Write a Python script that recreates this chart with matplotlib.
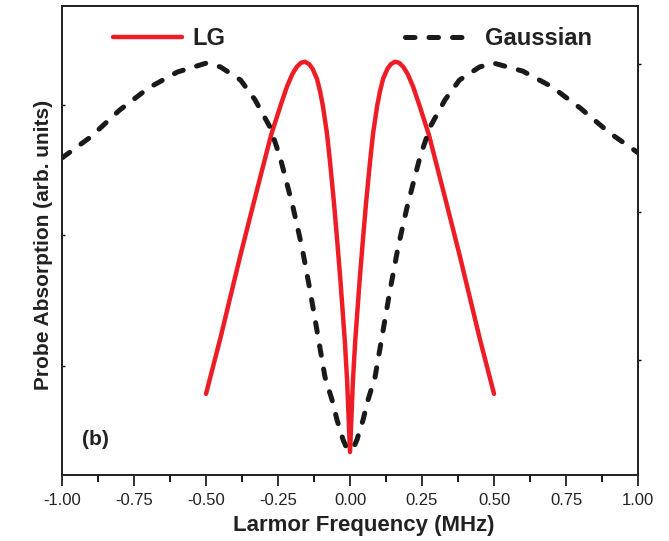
import matplotlib
matplotlib.use("Agg")
import matplotlib.pyplot as plt

plt.rcParams['font.family'] = ['Liberation Sans', 'DejaVu Sans']

# LG curve (arb. units 0..1)
lg_x = [-0.5, -0.45, -0.382, -0.33, -0.274, -0.24, -0.219, -0.2, -0.185, -0.17, -0.156,
        -0.142, -0.13, -0.115, -0.104, -0.094, -0.08, -0.069, -0.056, -0.045, -0.034,
        -0.028, -0.018, -0.01, 0.0,
        0.01, 0.018, 0.028, 0.034, 0.045, 0.056, 0.069, 0.08, 0.094, 0.104, 0.115,
        0.13, 0.142, 0.156, 0.17, 0.185, 0.2, 0.219, 0.24, 0.274, 0.33, 0.382, 0.45, 0.5]
lg_y = [0.173, 0.292, 0.465, 0.591, 0.725, 0.790, 0.828, 0.855, 0.870, 0.879, 0.881,
        0.876, 0.866, 0.845, 0.818, 0.786, 0.728, 0.665, 0.582, 0.503, 0.420,
        0.370, 0.285, 0.200, 0.049,
        0.200, 0.285, 0.370, 0.420, 0.503, 0.582, 0.665, 0.728, 0.786, 0.818, 0.845,
        0.866, 0.876, 0.881, 0.879, 0.870, 0.855, 0.828, 0.790, 0.725, 0.591, 0.465, 0.292, 0.173]

# Gaussian curve
ga_x = [-1.0, -0.9, -0.8, -0.7, -0.6, -0.5, -0.45, -0.38, -0.33, -0.278, -0.243, -0.198,
        -0.167, -0.139, -0.115, -0.087, -0.0625, -0.045, -0.024, -0.012, 0.0,
        0.012, 0.024, 0.045, 0.0625, 0.087, 0.115, 0.139, 0.167, 0.198, 0.243, 0.278,
        0.33, 0.38, 0.45, 0.5, 0.6, 0.7, 0.8, 0.9, 1.0]
ga_y = [0.676, 0.721, 0.778, 0.825, 0.859, 0.878, 0.870, 0.842, 0.800, 0.742, 0.678, 0.571,
        0.486, 0.394, 0.309, 0.209, 0.160, 0.117, 0.075, 0.058, 0.053,
        0.058, 0.075, 0.117, 0.160, 0.209, 0.309, 0.394, 0.486, 0.571, 0.678, 0.742,
        0.800, 0.842, 0.870, 0.878, 0.861, 0.828, 0.782, 0.730, 0.687]

xticks = [-1.0, -0.75, -0.5, -0.25, 0.0, 0.25, 0.5, 0.75, 1.0]
left_ticks = [0.789, 0.512, 0.232]
right_ticks = [0.876, 0.561, 0.245]

fig = plt.figure(figsize=(6.69, 5.41), dpi=100)
ax = fig.add_axes([0.0927, 0.122, 0.861, 0.867])

ax.plot(lg_x, lg_y, color='#ee1c25', lw=3.2, label='LG',
        solid_capstyle='round', solid_joinstyle='round')
ax.plot(ga_x, ga_y, color='#1a1a1a', lw=3.6, label='Gaussian',
        dashes=(1.9, 2.8), dash_capstyle='round')

ax.set_xlim(-1.0, 1.0)
ax.set_ylim(0, 1)
ax.set_xticks(xticks)
ax.set_xticklabels(['%.2f' % t for t in xticks])
ax.set_xticks([t + 0.125 for t in xticks[:-1]], minor=True)
ax.tick_params(axis='x', which='major', direction='out', length=8, width=1.3,
               labelsize=12, colors='#222222', pad=5)
ax.tick_params(axis='x', which='minor', direction='out', length=5, width=1.3)
ax.set_yticks(left_ticks)
ax.set_yticklabels([])
ax.tick_params(axis='y', direction='in', length=2.5, width=1.0)

ax2 = ax.twinx()
ax2.set_ylim(0, 1)
ax2.set_yticks(right_ticks)
ax2.set_yticklabels([])
ax2.tick_params(axis='y', direction='out', length=2.5, width=1.0)

for a in (ax, ax2):
    for s in a.spines.values():
        s.set_linewidth(1.3)
        s.set_color('#222222')

ax.set_xlabel('Larmor Frequency (MHz)', fontsize=16, fontweight='bold', labelpad=5,
              color='#222222', x=0.524)
ax.set_ylabel('Probe Absorption (arb. units)', fontsize=15, fontweight='bold', labelpad=3,
              color='#222222', y=0.49)

ax.text(0.035, 0.075, '(b)', transform=ax.transAxes, fontsize=15, fontweight='bold',
        color='#222222', va='center')

leg = ax.legend(loc='upper left', bbox_to_anchor=(0.052, 1.0), ncol=2, frameon=False,
                handlelength=2.9, columnspacing=7.6, handletextpad=0.47,
                prop={'weight': 'bold', 'size': 17})
for t in leg.get_texts():
    t.set_color('#222222')

fig.savefig('out.png', dpi=100)
